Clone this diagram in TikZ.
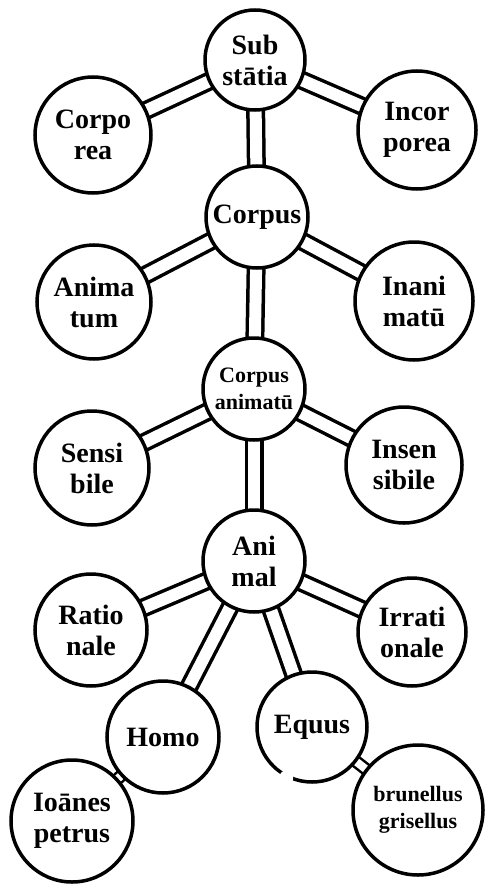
\documentclass[tikz,border=0pt]{standalone}
\usepackage{fontspec}
\setmainfont{Liberation Serif}
\usetikzlibrary{backgrounds}
\begin{document}
\begin{tikzpicture}[x=1pt,y=-1pt,
  circ/.style={circle,draw=black,line width=3.5pt,fill=white,inner sep=0pt,align=center,
    font=\fontsize{28}{31}\selectfont\bfseries},
  small/.style={font=\fontsize{22}{27}\selectfont\bfseries},
  gap/.style={fill=white},
  bar/.style={draw=black,line width=3.5pt,double=white,double distance=12pt},
  smallbar/.style={draw=black,line width=2.5pt,double=white,double distance=8pt}]
\useasboundingbox (0,0) rectangle (489,888);
\node[circ,minimum size=100pt] (sub) at (255,60) {Sub\\stātia};
\node[circ,minimum size=116pt] (corporea) at (93,135) {Corpo\\rea};
\node[circ,minimum size=118pt] (incorporea) at (417,130) {Incor\\porea};
\node[circ,minimum size=102pt] (corpus) at (257,217) {Corpus};
\node[circ,minimum size=114pt] (animatum) at (94,302) {Anima\\tum};
\node[circ,minimum size=118pt] (inanimatum) at (414,301) {Inani\\matū};
\node[circ,small,minimum size=102pt] (corpan) at (254,389) {Corpus\\animatū};
\node[circ,minimum size=114pt] (sensibile) at (92,468) {Sensi\\bile};
\node[circ,minimum size=116pt] (insensibile) at (404,465) {Insen\\sibile};
\node[circ,minimum size=102pt] (animal) at (254,561) {Ani\\mal};
\node[circ,minimum size=112pt] (rationale) at (91,630) {Ratio\\nale};
\node[circ,minimum size=108pt] (irrationale) at (412,632) {Irrati\\onale};
\node[circ,minimum size=112pt] (homo) at (163,737) {Homo};
\node[circ,minimum size=110pt] (equus) at (312,727) {Equus};
\node[circ,minimum size=122pt] (ioannes) at (72,821) {Ioānes\\petrus};
\node[circ,small,minimum size=130pt] (brunellus) at (418,810) {brunellus\\grisellus};
\coordinate (equusgap) at (equus.243);
\fill[gap] (equusgap) circle[radius=7];
\begin{scope}[on background layer]
\draw[bar] (sub.center) -- (corporea.center);
\draw[bar] (sub.center) -- (incorporea.center);
\draw[bar] (sub.center) -- (corpus.center);
\draw[bar] (corpus.center) -- (animatum.center);
\draw[bar] (corpus.center) -- (inanimatum.center);
\draw[bar] (corpus.center) -- (corpan.center);
\draw[bar] (corpan.center) -- (sensibile.center);
\draw[bar] (corpan.center) -- (insensibile.center);
\draw[bar] (corpan.center) -- (animal.center);
\draw[bar] (animal.center) -- (rationale.center);
\draw[bar] (animal.center) -- (irrationale.center);
\draw[bar] (animal.center) -- (homo.center);
\draw[bar] (animal.center) -- (equus.center);
\draw[smallbar] (homo.center) -- (ioannes.center);
\draw[smallbar] (equus.center) -- (brunellus.center);
\end{scope}
\end{tikzpicture}
\end{document}
